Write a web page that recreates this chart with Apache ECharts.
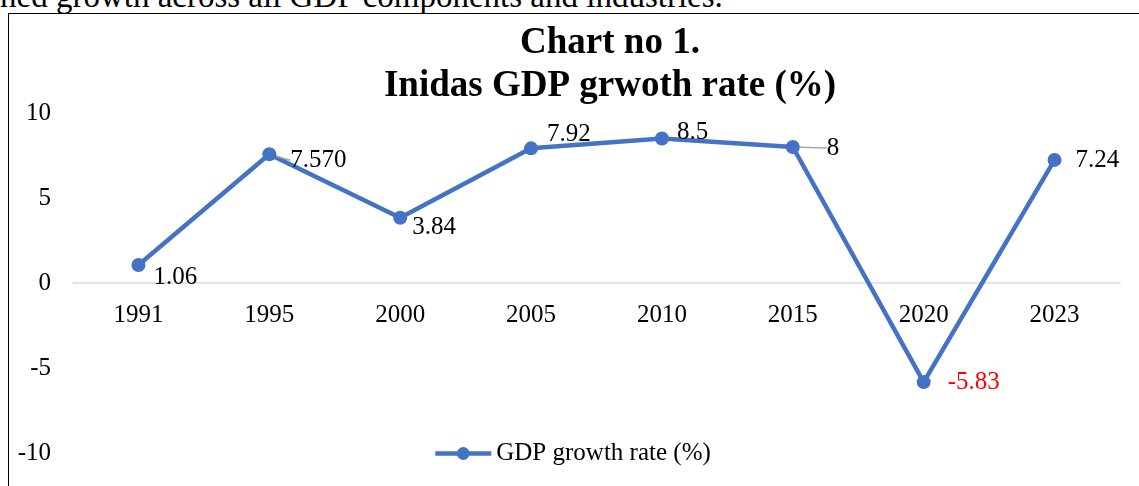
<!DOCTYPE html>
<html>
<head>
<meta charset="utf-8">
<script src="https://cdn.jsdelivr.net/npm/echarts@6/dist/echarts.min.js"></script>
<style>
  html, body { margin: 0; padding: 0; background: #fff; overflow: hidden; }
  #top { position: absolute; left: 0; top: -20px; font-family: "Liberation Serif", "Times New Roman", serif; font-size: 33px; line-height: 33px; white-space: nowrap; color: #000; }
  #box { position: absolute; left: 8px; top: 13px; width: 1140px; height: 480px; border: 1.5px solid #000; box-sizing: border-box; }
  #chart { position: absolute; left: 0; top: 0; width: 1139px; height: 486px; }
</style>
</head>
<body>
<div id="top">ned growth across all GDP components and industries.</div>
<div id="box"></div>
<div id="chart"></div>
<script>
const titleLines = ["Chart no 1.", "Inidas GDP grwoth rate (%)"];
const seriesName = "GDP growth rate (%)";
const years = ["1991", "1995", "2000", "2005", "2010", "2015", "2020", "2023"];
const growth = [1.06, 7.57, 3.84, 7.92, 8.5, 8, -5.83, 7.24];
const labelTexts = ["1.06", "7.570", "3.84", "7.92", "8.5", "8", "-5.83", "7.24"];
const yTicks = [-10, -5, 0, 5, 10];

const labelOffsets = [[3, 12], [9, 6], [0, 10], [4, -14], [3, -6], [22, 1], [12, 0], [9, 1]];
const labelColors = ["#000", "#000", "#000", "#000", "#000", "#000", "#ff0000", "#000"];
const leader = [false, true, false, false, false, true, false, false];

const FONT = "'Liberation Serif', 'Times New Roman', serif";
const chart = echarts.init(document.getElementById('chart'), null, { renderer: 'canvas' });

const data = growth.map((v, i) => ({
  value: v,
  label: {
    show: true,
    position: 'right',
    distance: 5,
    color: labelColors[i],
    formatter: labelTexts[i],
    fontFamily: FONT,
    fontSize: 25
  },
  labelLine: leader[i] ? { show: true, lineStyle: { color: '#a6a6a6', width: 1.5 } } : { show: false }
}));

chart.setOption({
  animation: false,
  backgroundColor: 'transparent',
  title: {
    text: titleLines.join('\n'),
    left: 605,
    top: 17,
    textAlign: 'center',
    textStyle: { fontFamily: FONT, fontSize: 37, fontWeight: 'bold', color: '#000', lineHeight: 43 }
  },
  legend: {
    data: [seriesName],
    left: 428,
    top: 436,
    itemWidth: 56,
    itemHeight: 16,
    lineStyle: { width: 4.5, color: '#4472C4' },
    itemStyle: { color: '#4472C4' },
    textStyle: { fontFamily: FONT, fontSize: 25, color: '#000' }
  },
  grid: { left: 73, right: 19, top: 113, bottom: 33, containLabel: false, outerBoundsMode: 'none' },
  xAxis: {
    type: 'category',
    data: years,
    boundaryGap: true,
    offset: -170,
    axisLine: { onZero: false, lineStyle: { color: '#d9d9d9', width: 1.5 } },
    axisTick: { show: false },
    axisLabel: { fontFamily: FONT, fontSize: 25, color: '#000', margin: 20 },
    splitLine: { show: false }
  },
  yAxis: {
    type: 'value',
    min: yTicks[0],
    max: yTicks[yTicks.length - 1],
    interval: 5,
    axisLine: { show: false },
    axisTick: { show: false },
    splitLine: { show: false },
    axisLabel: { fontFamily: FONT, fontSize: 25, color: '#000', margin: 22 }
  },
  series: [{
    name: seriesName,
    type: 'line',
    data: data,
    symbol: 'circle',
    symbolSize: 14,
    lineStyle: { color: '#4472C4', width: 4.5 },
    itemStyle: { color: '#4472C4' },
    labelLayout: function (params) {
      const o = labelOffsets[params.dataIndex];
      return { dx: o[0], dy: o[1] };
    }
  }]
});
</script>
</body>
</html>
